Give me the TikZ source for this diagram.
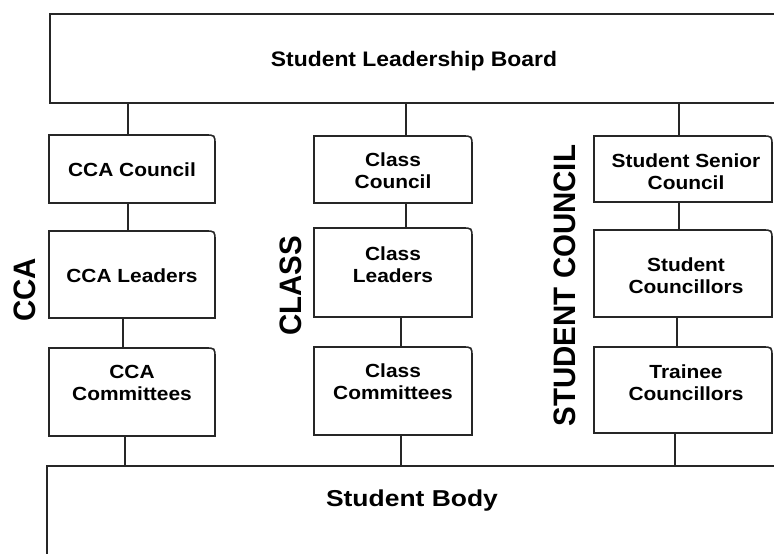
\documentclass[tikz,border=0pt]{standalone}
\usepackage{fontspec}
\setmainfont{Liberation Sans}
\newfontfamily\boxfont{Liberation Sans}[FakeStretch=1.1]
\newfontfamily\boardfont{Liberation Sans}[FakeStretch=1.09]
\newfontfamily\bodyfont{Liberation Sans}[FakeStretch=1.15]
\newfontfamily\labfont{Liberation Sans}[FakeStretch=0.95]
\newcommand\mybox[5]{%
  \node[boxn,minimum width=#4pt,minimum height=#5pt] (#1) at (#2,#3) {};
  \draw[boxline] (#1.south west) -- (#1.north west) -- ([xshift=-10pt]#1.north east)
    .. controls (#1.north east) .. ([yshift=-10pt]#1.north east) -- (#1.south east) -- cycle;}
\begin{document}
\begin{tikzpicture}[x=1pt,y=-1pt,
  boxn/.style={draw=none,inner sep=0pt,outer sep=0pt,rectangle},
  boxline/.style={draw=black!85,line width=1.6pt,fill=white},
  conn/.style={draw=black!85,line width=2pt},
  boxtext/.style={font=\boxfont\bfseries\fontsize{19}{22}\selectfont,align=center,inner sep=0pt},
  sidelabel/.style={font=\labfont\bfseries\fontsize{31}{34}\selectfont,rotate=90,inner sep=0pt}]
\useasboundingbox (0,0) rectangle (774,554);
% top and bottom
\node[boxn,minimum width=740pt,minimum height=89pt] (board) at (420,58.5) {};
\draw[boxline] (board.south west) rectangle (board.north east);
\node[boxn,minimum width=743pt,minimum height=134pt] (body) at (418.5,533) {};
\draw[boxline] (body.south west) rectangle (body.north east);
\node[font=\boardfont\bfseries\fontsize{21}{24}\selectfont,inner sep=0pt] (tboard) at (414,61) {Student Leadership Board};
\node[font=\bodyfont\bfseries\fontsize{23}{26}\selectfont,inner sep=0pt] (tbody) at (412,501) {Student Body};
% column boxes
\mybox{a1}{132}{169}{166}{68}
\mybox{a2}{132}{274.5}{166}{87}
\mybox{a3}{132}{392}{166}{88}
\mybox{b1}{393}{169.5}{158}{67}
\mybox{b2}{393}{272.5}{158}{89}
\mybox{b3}{393}{391}{158}{88}
\mybox{c1}{683}{169}{178}{66}
\mybox{c2}{683}{273.5}{178}{87}
\mybox{c3}{683}{390}{178}{86}
% texts
\node[boxtext] (ta1) at (132,170) {CCA Council};
\node[boxtext] (ta2) at (132,276) {CCA Leaders};
\node[boxtext] (ta3) at (132,383) {CCA\\Committees};
\node[boxtext] (tb1) at (393,171) {Class\\Council};
\node[boxtext] (tb2) at (393,264.5) {Class\\Leaders};
\node[boxtext] (tb3) at (393,381.5) {Class\\Committees};
\node[boxtext] (tc1) at (686,171.5) {Student Senior\\Council};
\node[boxtext] (tc2) at (686,276) {Student\\Councillors};
\node[boxtext] (tc3) at (686,382.5) {Trainee\\Councillors};
% side labels
\node[sidelabel] (lcca) at (25,290) {CCA};
\node[sidelabel] (lclass) at (291,286) {CLASS};
\node[sidelabel] (lsc) at (565,285.5) {STUDENT COUNCIL};
% connector x positions
\coordinate (xa1) at (128,0);
\coordinate (xa2) at (123,0);
\coordinate (xa3) at (125,0);
\coordinate (xb1) at (406,0);
\coordinate (xb2) at (401,0);
\coordinate (xc1) at (679,0);
\coordinate (xc2) at (677,0);
\coordinate (xc3) at (675,0);
% connectors
\draw[conn] (board.south -| xa1) -- (a1.north -| xa1);
\draw[conn] (a1.south -| xa1) -- (a2.north -| xa1);
\draw[conn] (a2.south -| xa2) -- (a3.north -| xa2);
\draw[conn] (a3.south -| xa3) -- (body.north -| xa3);
\draw[conn] (board.south -| xb1) -- (b1.north -| xb1);
\draw[conn] (b1.south -| xb1) -- (b2.north -| xb1);
\draw[conn] (b2.south -| xb2) -- (b3.north -| xb2);
\draw[conn] (b3.south -| xb2) -- (body.north -| xb2);
\draw[conn] (board.south -| xc1) -- (c1.north -| xc1);
\draw[conn] (c1.south -| xc1) -- (c2.north -| xc1);
\draw[conn] (c2.south -| xc2) -- (c3.north -| xc2);
\draw[conn] (c3.south -| xc3) -- (body.north -| xc3);
\end{tikzpicture}
\end{document}
